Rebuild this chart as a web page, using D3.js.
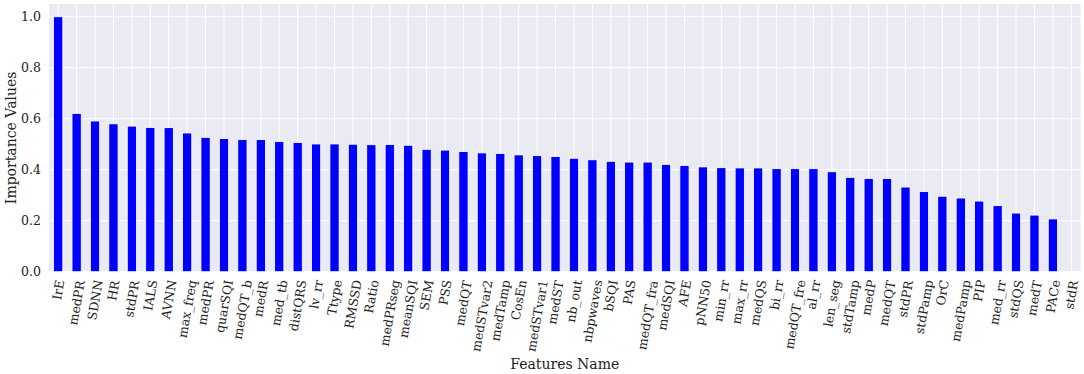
<!DOCTYPE html>
<html>
<head>
<meta charset="utf-8">
<script src="https://cdn.jsdelivr.net/npm/d3@7"></script>
<style>
  body { margin: 0; background: #fff; }
  text { font-family: "DejaVu Serif", serif; fill: #222; }
</style>
</head>
<body>
<div id="vis"></div>
<script>
// feature names, in plotted order
const features = ["IrE", "medPR", "SDNN", "HR", "stdPR", "IALS", "AVNN", "max_freq", "medPR", "quarSQI",
  "medQT_b", "medR", "med_tb", "distQRS", "lv_rr", "Ttype", "RMSSD", "Ratio", "medPRseg", "meanSQI",
  "SEM", "PSS", "medQT", "medSTvar2", "medTamp", "CosEn", "medSTvar1", "medST", "nb_out", "nbpwaves",
  "bSQI", "PAS", "medQT_fra", "medSQI", "AFE", "pNN50", "min_rr", "max_rr", "medQS", "bi_rr",
  "medQT_fre", "al_rr", "len_seg", "stdTamp", "medP", "medQT", "stdPR", "stdPamp", "OrC", "medPamp",
  "PIP", "med_rr", "stdQS", "medT", "PACe", "stdR"];

// importance values
const importance = [1.0, 0.621, 0.591, 0.580, 0.571, 0.566, 0.565, 0.544, 0.527, 0.522,
  0.518, 0.518, 0.511, 0.507, 0.501, 0.501, 0.500, 0.498, 0.499, 0.496,
  0.480, 0.477, 0.471, 0.466, 0.464, 0.458, 0.455, 0.452, 0.445, 0.439,
  0.433, 0.430, 0.430, 0.421, 0.417, 0.411, 0.408, 0.407, 0.407, 0.404,
  0.404, 0.404, 0.392, 0.370, 0.366, 0.366, 0.332, 0.314, 0.296, 0.289,
  0.277, 0.259, 0.230, 0.222, 0.207, 0.0];

const yTicks = [0, 0.2, 0.4, 0.6, 0.8, 1.0];

const width = 1084
const height = 374
const mLeft = 49, mRight = 1080.5, mTop = 4, mBottom = 271.7

const keys = d3.range(features.length)

const x = d3.scaleBand()
  .domain(keys)
  .range([mLeft, mRight])
  .paddingInner(0.5)
  .paddingOuter(0.25)

const y = d3.scaleLinear()
  .domain([0, 1.05])
  .range([mBottom, mTop])

const svg = d3.select("#vis")
  .append("svg")
  .attr("width", width)
  .attr("height", height)

// background
svg.append("rect")
  .attr("x", mLeft)
  .attr("y", mTop)
  .attr("width", mRight - mLeft)
  .attr("height", mBottom - mTop)
  .attr("fill", "#EAEAF2")

// grid
svg.append("g")
  .selectAll("line")
  .data(yTicks)
  .join("line")
    .attr("x1", mLeft)
    .attr("x2", mRight)
    .attr("y1", d => y(d))
    .attr("y2", d => y(d))
    .attr("stroke", "white")
    .attr("stroke-width", 1)

svg.append("g")
  .selectAll("line")
  .data(keys)
  .join("line")
    .attr("x1", d => x(d) + x.bandwidth() / 2)
    .attr("x2", d => x(d) + x.bandwidth() / 2)
    .attr("y1", mTop)
    .attr("y2", mBottom)
    .attr("stroke", "white")
    .attr("stroke-width", 1)

// bars
svg.append("g")
  .selectAll("rect")
  .data(keys)
  .join("rect")
    .attr("x", d => x(d))
    .attr("y", d => y(importance[d]))
    .attr("width", x.bandwidth())
    .attr("height", d => y(0) - y(importance[d]))
    .attr("fill", "#0000FF")
    .attr("stroke", "white")
    .attr("stroke-width", 0.8)

// y axis tick labels
const yAxis = svg.append("g")
  .attr("transform", `translate(${mLeft},0)`)
  .call(d3.axisLeft(y).tickValues(yTicks).tickFormat(d3.format(".1f")).tickSize(0).tickPadding(8))
yAxis.select(".domain").remove()
yAxis.selectAll("text")
  .style("font-family", "'DejaVu Serif', serif")
  .style("font-size", "12.5px")
  .attr("fill", "#222")

// x tick labels, rotated, bbox centred under the tick
const xlab = svg.append("g")
xlab.selectAll("g")
  .data(keys)
  .join("g")
  .each(function(d) {
    const cx = x(d) + x.bandwidth() / 2
    const g = d3.select(this)
      .attr("transform", `translate(${cx},${mBottom + 8}) rotate(-80)`)
    g.append("text")
      .attr("text-anchor", "end")
      .attr("dy", "0.35em")
      .style("font-size", "12.5px")
      .text(features[d])
    const r = this.getBoundingClientRect()
    const dx = cx - (r.left + r.right) / 2
    const dy = (mBottom + 7) - r.top
    g.attr("transform", `translate(${cx + dx},${mBottom + 8 + dy}) rotate(-80)`)
  })

// axis titles
svg.append("text")
  .attr("x", (mLeft + mRight) / 2)
  .attr("y", 369)
  .attr("text-anchor", "middle")
  .style("font-size", "14px")
  .text("Features Name")

svg.append("text")
  .attr("transform", `translate(15.5,${(mTop + mBottom) / 2}) rotate(-90)`)
  .attr("text-anchor", "middle")
  .style("font-size", "14px")
  .text("Importance Values")
</script>
</body>
</html>
